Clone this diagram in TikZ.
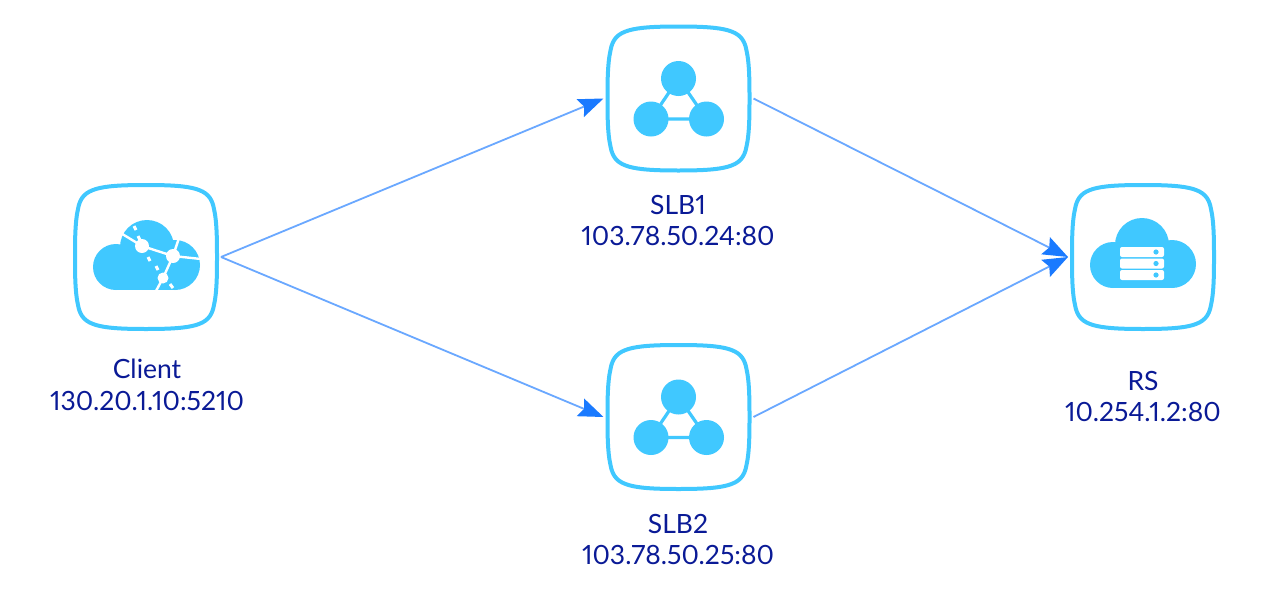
\documentclass[tikz,border=0pt]{standalone}
\usepackage{fontspec}
\setmainfont[Numbers=Proportional]{Lato}
\usetikzlibrary{arrows.meta}
\definecolor{iconblue}{HTML}{40C8FF}
\definecolor{linkblue}{HTML}{6AA8FF}
\definecolor{tipblue}{HTML}{1A7AFF}
\definecolor{labelblue}{HTML}{0A1A96}
\tikzset{
  box/.style={minimum width=150pt,minimum height=150pt,inner sep=0pt,outer sep=0pt},
  label/.style={text=labelblue,font=\fontsize{26.5}{30}\selectfont,inner sep=0pt,anchor=center},
  link/.style={linkblue,line width=1.8pt,-{Stealth[length=25pt,width=19pt,inset=4pt,color=tipblue]}},
  frame/.style={draw=iconblue,line width=4pt},
  icon/.style={fill=iconblue,draw=none},
  cut/.style={draw=white,line width=2.4pt},
  cutdash/.style={draw=white,line width=3pt}
}
\newcommand{\squircle}{%
  \draw[frame] (0,-72) .. controls (-25,-72) and (-40,-71) .. (-50,-68)
    .. controls (-60,-65) and (-66,-60) .. (-68,-48)
    .. controls (-71,-35) and (-71,-15) .. (-71,0)
    .. controls (-71,15) and (-71,35) .. (-68,48)
    .. controls (-66,60) and (-60,65) .. (-50,68)
    .. controls (-40,71) and (-25,72) .. (0,72)
    .. controls (25,72) and (40,71) .. (50,68)
    .. controls (60,65) and (66,60) .. (68,48)
    .. controls (71,35) and (71,15) .. (71,0)
    .. controls (71,-15) and (71,-35) .. (68,-48)
    .. controls (66,-60) and (60,-65) .. (50,-68)
    .. controls (40,-71) and (25,-72) .. (0,-72) -- cycle;}
\newcommand{\triad}{%
  \draw[iconblue,line width=3.2pt] (0,-20) -- (-27.5,20.5) -- (28,20.5) -- cycle;
  \fill[icon] (0,-20) circle (17.5);
  \fill[icon] (-27.5,20.5) circle (17.5);
  \fill[icon] (28,20.5) circle (17.5);}
\begin{document}
\begin{tikzpicture}[x=1pt,y=-1pt]
\useasboundingbox (0,0) rectangle (1270,592);
\fill[white] (0,0) rectangle (1270,592);
% anchors
\node[box] (client) at (146,257) {};
\node[box] (slba) at (678.5,98.5) {};
\node[box] (slbb) at (678.5,417) {};
\node[box] (rs) at (1143,257) {};
% connectors
\draw[link] (client.east) -- (slba.west);
\draw[link] (client.east) -- (slbb.west);
\draw[link] (slba.east) -- (rs.west);
\draw[link] (slbb.east) -- (rs.west);
% client icon
\begin{scope}[shift={(146,257)}]
  \squircle
  \fill[icon] (-30,10) circle (23);
  \fill[icon] (1,-10) circle (27);
  \fill[icon] (29,8) circle (25);
  \fill[icon] (-30,0) rectangle (29,33);
  \draw[cut] (-27,-25) -- (-4,-11) -- (27,-1) -- (55,2);
  \draw[cut] (33,-19) -- (27,-1) -- (17,21) -- (10,34);
  \draw[cutdash] (-12,-31) -- (-10,-27);
  \draw[cutdash] (-8,-21) -- (-6,-17);
  \draw[cutdash] (2,0) -- (4,4);
  \draw[cutdash] (10,9) -- (12,13);
  \draw[cutdash] (24,27) -- (27,31);
  \fill[white] (-4,-11) circle (7);
  \fill[white] (27,-1) circle (7);
  \fill[white] (17,21) circle (5.5);
\end{scope}
% SLB icons
\begin{scope}[shift={(678.5,98.5)}]
  \squircle
  \triad
\end{scope}
\begin{scope}[shift={(678.5,417)}]
  \squircle
  \triad
\end{scope}
% RS icon
\begin{scope}[shift={(1143,257)}]
  \squircle
  \fill[icon] (-30,8) circle (23);
  \fill[icon] (-1,-12) circle (27);
  \fill[icon] (29,7) circle (24);
  \fill[icon] (-30,0) rectangle (29,31);
  \foreach \yy in {-10,1.5,13}{
    \fill[white,rounded corners=2pt] (-23,\yy) rectangle (21,\yy+10);
    \fill[iconblue] (13,\yy+5) circle (2.6);
  }
\end{scope}
% labels
\node[label] (clientname) at (147,369) {Client};
\node[label] (clientaddr) at (147,401) {130.20.1.10:5210};
\node[label] (slbaname) at (678,205) {SLB1};
\node[label] (slbaaddr) at (678,236) {103.78.50.24:80};
\node[label] (slbbname) at (678,524) {SLB2};
\node[label] (slbbaddr) at (678,555) {103.78.50.25:80};
\node[label] (rsname) at (1143,381) {RS};
\node[label] (rsaddr) at (1143,412) {10.254.1.2:80};
\end{tikzpicture}
\end{document}
